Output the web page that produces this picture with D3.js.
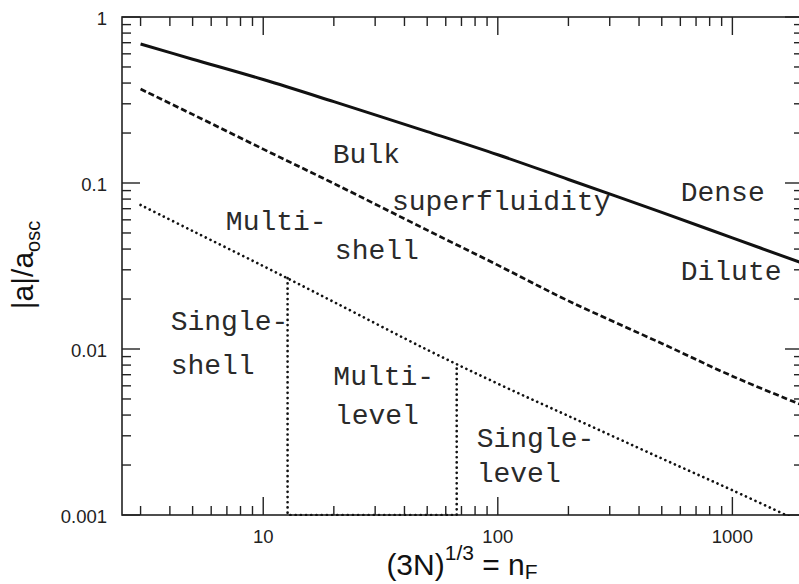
<!DOCTYPE html>
<html>
<head>
<meta charset="utf-8">
<script src="https://cdn.jsdelivr.net/npm/d3@7"></script>
<style>
  html, body { margin: 0; padding: 0; background: #fff; }
  svg { display: block; }
  .tick-label { font-family: Arial, "Liberation Sans", Helvetica, sans-serif; font-size: 18.5px; fill: #222; }
  .axis-title { font-family: Arial, "Liberation Sans", Helvetica, sans-serif; font-size: 30px; fill: #111; }
  .region { font-family: "Courier New", "Liberation Mono", monospace; font-size: 28px; fill: #2a2a2a; }
</style>
</head>
<body>
<svg id="chart" width="799" height="584"></svg>
<script>
// ---- data ----
const nValues        = [3, 5, 10, 20, 50, 100, 200, 500, 1000, 2000];
const denseDilute    = [0.688, 0.557, 0.42, 0.309, 0.204, 0.148, 0.105, 0.0665, 0.0467, 0.0328];
const bulkBoundary   = [0.368, 0.259, 0.160, 0.0993, 0.052, 0.032, 0.0195, 0.0108, 0.00686, 0.00457];
const shellBoundary  = [0.0737, 0.0514, 0.0316, 0.0192, 0.00989, 0.00618, 0.00395, 0.00219, 0.00141, 0.000895];
const levelCutN      = [12.7, 66.8];
const levelCutTop    = [0.0267, 0.00801];

const xMajorTicks  = [10, 100, 1000];
const xTickLabels  = ["10", "100", "1000"];
const yMajorTicks  = [0.001, 0.01, 0.1, 1];
const yTickLabels  = ["0.001", "0.01", "0.1", "1"];

const regionTexts  = ["Bulk", "superfluidity", "Dense", "Dilute", "Multi-", "shell", "Single-", "shell", "Multi-", "level", "Single-", "level"];
const regionN      = [19.8, 35.4, 602, 602, 6.93, 20.2, 4.03, 4.03, 19.9, 20.2, 81.3, 81.3];
const regionA      = [0.1315, 0.0688, 0.0782, 0.0260, 0.0521, 0.0348, 0.0130, 0.00707, 0.00603, 0.00353, 0.00258, 0.00159];

// ---- layout ----
const svg = d3.select("#chart");
const pLeft = 122, pRight = 803, pTop = 17, pBottom = 515;

const x = d3.scaleLog().domain([2.5, 2000]).range([pLeft, pRight]);
const y = d3.scaleLog().domain([0.001, 1]).range([pBottom, pTop]);

const ink = "#111";

svg.append("defs").append("clipPath").attr("id", "plotclip")
  .append("rect").attr("x", pLeft).attr("y", pTop).attr("width", pRight - pLeft).attr("height", pBottom - pTop + 1);

// frame
svg.append("rect").attr("x", pLeft).attr("y", pTop).attr("width", pRight - pLeft).attr("height", pBottom - pTop)
  .attr("fill", "none").attr("stroke", "#222").attr("stroke-width", 1.6);

// ticks
const xAll = x.ticks().filter(d => d >= 2.5 && d <= 2000);
const yAll = y.ticks();
const isMajor = d => Math.abs(Math.log10(d) - Math.round(Math.log10(d))) < 1e-9;
const tickG = svg.append("g").attr("stroke", "#222").attr("stroke-width", 1.4);
xAll.forEach(d => {
  const L = isMajor(d) ? 18 : 9;
  tickG.append("line").attr("x1", x(d)).attr("x2", x(d)).attr("y1", pBottom).attr("y2", pBottom - L);
  tickG.append("line").attr("x1", x(d)).attr("x2", x(d)).attr("y1", pTop).attr("y2", pTop + L);
});
yAll.forEach(d => {
  const L = isMajor(d) ? 18 : 9;
  tickG.append("line").attr("x1", pLeft).attr("x2", pLeft + L).attr("y1", y(d)).attr("y2", y(d));
  tickG.append("line").attr("x1", pRight).attr("x2", pRight - L).attr("y1", y(d)).attr("y2", y(d));
});

// tick labels
xMajorTicks.forEach((d, i) => {
  svg.append("text").attr("class", "tick-label").attr("x", x(d)).attr("y", 542.5)
    .attr("text-anchor", "middle").text(xTickLabels[i]);
});
yMajorTicks.forEach((d, i) => {
  svg.append("text").attr("class", "tick-label").attr("x", 107).attr("y", y(d) + 7.5)
    .attr("text-anchor", "end").text(yTickLabels[i]);
});

// curves
const line = d3.line().x(d => x(d[0])).y(d => y(d[1])).curve(d3.curveCatmullRom);
const plot = svg.append("g").attr("clip-path", "url(#plotclip)");

plot.append("path").datum(nValues.map((n, i) => [n, denseDilute[i]]))
  .attr("d", line).attr("fill", "none").attr("stroke", ink).attr("stroke-width", 3);
plot.append("path").datum(nValues.map((n, i) => [n, bulkBoundary[i]]))
  .attr("d", line).attr("fill", "none").attr("stroke", ink).attr("stroke-width", 2.7)
  .attr("stroke-dasharray", "6,3");
plot.append("path").datum(nValues.map((n, i) => [n, shellBoundary[i]]))
  .attr("d", line).attr("fill", "none").attr("stroke", ink).attr("stroke-width", 2.7)
  .attr("stroke-linecap", "round").attr("stroke-dasharray", "0.01,5.2");

// level cut (dotted box)
const cutPts = [[levelCutN[0], levelCutTop[0]], [levelCutN[0], 0.001], [levelCutN[1], 0.001], [levelCutN[1], levelCutTop[1]]];
plot.append("path").datum(cutPts)
  .attr("d", d3.line().x(d => x(d[0])).y(d => y(d[1])))
  .attr("fill", "none").attr("stroke", ink).attr("stroke-width", 2.7)
  .attr("stroke-linecap", "round").attr("stroke-dasharray", "0.01,5.2");

// region labels
regionTexts.forEach((t, i) => {
  svg.append("text").attr("class", "region").attr("x", x(regionN[i])).attr("y", y(regionA[i])).text(t);
});

// axis titles
const xt = svg.append("text").attr("class", "axis-title").attr("x", 462).attr("y", 575).attr("text-anchor", "middle");
xt.append("tspan").text("(3N)");
xt.append("tspan").attr("dy", -15).attr("font-size", "21px").text("1/3");
xt.append("tspan").attr("dy", 15).text(" = n");
xt.append("tspan").attr("dy", 4).attr("font-size", "21px").text("F");

const yt = svg.append("text").attr("class", "axis-title")
  .attr("transform", "translate(33,265) rotate(-90)").attr("text-anchor", "middle");
yt.append("tspan").text("|a|/a");
yt.append("tspan").attr("dy", 7).attr("font-size", "20px").text("osc");
</script>
</body>
</html>
